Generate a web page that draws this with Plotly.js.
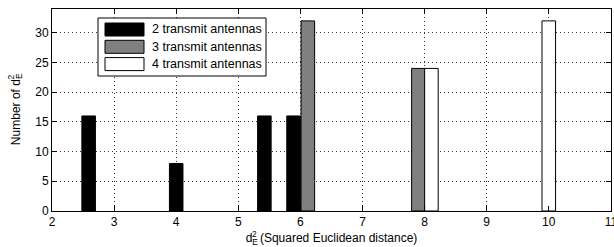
<!DOCTYPE html>
<html><head><meta charset="utf-8">
<script src="https://cdn.plot.ly/plotly-3.0.1.min.js"></script>
<style>html,body{margin:0;padding:0;background:#fff}#chart{width:614px;height:247px}</style>
</head><body><div id="chart"></div>
<script>
// ---- data ----
const seriesNames = ['2 transmit antennas', '3 transmit antennas', '4 transmit antennas'];
const seriesColors = ['#000000', '#808080', '#ffffff'];
const x2 = [2.59, 4.0, 5.42, 5.89];
const y2 = [16, 8, 16, 16];
const x3 = [6.12, 7.90];
const y3 = [32, 24];
const x4 = [8.11, 10.0];
const y4 = [24, 32];
const xTicks = [2, 3, 4, 5, 6, 7, 8, 9, 10, 11];
const yTicks = [0, 5, 10, 15, 20, 25, 30];

const FONT = '"Liberation Sans", Arial, Helvetica, sans-serif';
const dE2 = "d<sub><span style='letter-spacing:-6px'>E</span></sub><sup>2</sup>";

const xs = [x2, x3, x4], ys = [y2, y3, y4];
const traces = xs.map((x, i) => ({
  type: 'bar', x: x, y: ys[i], width: 0.218, name: seriesNames[i],
  marker: {color: seriesColors[i], line: {color: '#000', width: 1}},
  showlegend: false, hoverinfo: 'x+y'
}));

// plot area in pixels: left 52, right 611, top 9, bottom 211
const L = 52, R = 611, T = 9, B = 211;
const px = v => (v - L) / (R - L);
const py = v => (B - v) / (B - T);

const shapes = [];
const annotations = [];
// custom MATLAB-style legend
shapes.push({type: 'rect', xref: 'paper', yref: 'paper', x0: px(98), x1: px(266), y0: py(18), y1: py(76),
  fillcolor: '#fff', line: {color: '#000', width: 1}, layer: 'above'});
seriesNames.forEach((n, i) => {
  const cy = 29.5 + i * 17.3;
  shapes.push({type: 'rect', xref: 'paper', yref: 'paper', x0: px(105), x1: px(144), y0: py(cy - 6.5), y1: py(cy + 6.5),
    fillcolor: seriesColors[i], line: {color: '#000', width: 1}, layer: 'above'});
  annotations.push({xref: 'paper', yref: 'paper', x: px(150), y: py(cy), xanchor: 'left', yanchor: 'middle',
    text: n, showarrow: false, font: {family: FONT, size: 12.5, color: '#000'}});
});

const axCommon = {
  showline: true, linecolor: '#000', linewidth: 1, mirror: 'ticks',
  ticks: 'inside', ticklen: 5, tickcolor: '#000', tickwidth: 1,
  showgrid: true, gridcolor: '#333', gridwidth: 1, griddash: '1px,3px',
  zeroline: false, ticklabeloverflow: 'allow', tickfont: {family: FONT, size: 12, color: '#000'}
};

const layout = {
  width: 614, height: 247,
  margin: {l: L, r: 614 - R, t: T, b: 247 - B},
  paper_bgcolor: '#fff', plot_bgcolor: '#fff',
  barmode: 'overlay',
  xaxis: Object.assign({}, axCommon, {range: [2, 11.002], tickvals: xTicks, ticktext: xTicks.map(String),
    title: {text: dE2 + ' (Squared Euclidean distance)', font: {family: FONT, size: 12, color: '#000'}, standoff: 3}}),
  yaxis: Object.assign({}, axCommon, {range: [0, 34], tickvals: yTicks, ticktext: yTicks.map(String),
    title: {text: 'Number of ' + dE2, font: {family: FONT, size: 12, color: '#000'}, standoff: 12}}),
  shapes: shapes, annotations: annotations, showlegend: false
};
Plotly.newPlot('chart', traces, layout, {displayModeBar: false, staticPlot: true});
</script></body></html>
